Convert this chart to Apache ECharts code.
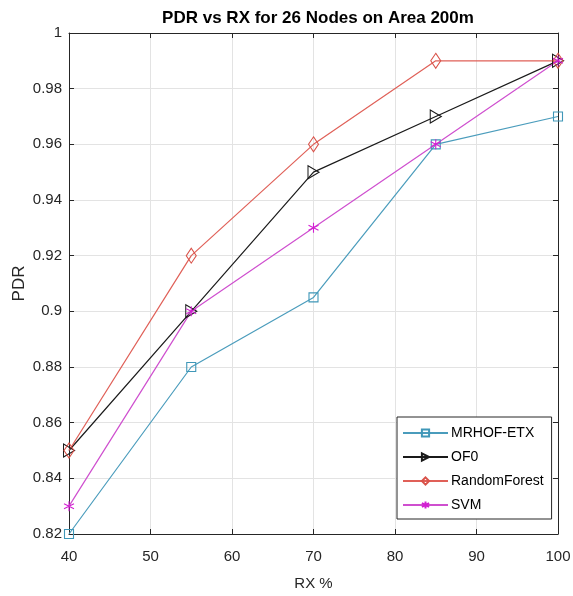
<!DOCTYPE html>
<html>
<head>
<meta charset="utf-8">
<script src="https://cdn.jsdelivr.net/npm/echarts@6/dist/echarts.min.js"></script>
<style>
  html, body { margin: 0; padding: 0; background: #fff; }
  #chart { width: 573px; height: 596px; }
</style>
</head>
<body>
<div id="chart"></div>
<script>
// RX percentages on the x axis
const rx = [40, 55, 70, 85, 100];

// Packet delivery ratio per routing method
const mrhofEtx = [0.82, 0.88, 0.905, 0.96, 0.97];
const of0 = [0.85, 0.90, 0.95, 0.97, 0.99];
const randomForest = [0.85, 0.92, 0.96, 0.99, 0.99];
const svm = [0.83, 0.90, 0.93, 0.96, 0.99];

const seriesNames = ['MRHOF-ETX', 'OF0', 'RandomForest', 'SVM'];

const toPairs = (vals) => rx.map((x, i) => [x, vals[i]]);

const FONT = 'Liberation Sans, Arial, sans-serif';
const AXIS_COLOR = '#262626';

const triangleRight = 'path://M0,0L10,6L0,12Z';
const asterisk = 'path://M5,0L5,10M0.7,2.5L9.3,7.5M0.7,7.5L9.3,2.5';

function makeSeries(name, vals, color, symbol, size, lineColor) {
  return {
    name: name,
    type: 'line',
    data: toPairs(vals),
    symbol: symbol,
    symbolSize: size,
    showAllSymbol: true,
    clip: false,
    lineStyle: { color: lineColor || color, width: 1.2 },
    itemStyle: { color: 'rgba(255,255,255,0)', borderColor: color, borderWidth: 1.1 },
    emphasis: { disabled: true },
    z: 3
  };
}

const chart = echarts.init(document.getElementById('chart'), null, { renderer: 'canvas' });

const tickLabel = { fontFamily: FONT, fontSize: 15, color: '#262626' };

const option = {
  animation: false,
  backgroundColor: '#fff',
  title: {
    text: 'PDR vs RX for 26 Nodes on Area 200m',
    left: 313,
    textAlign: 'center',
    top: 5,
    textStyle: { fontFamily: FONT, fontSize: 17, fontWeight: 'bold', color: '#000' }
  },
  grid: { left: 69, right: 15, top: 33, bottom: 62, containLabel: false, outerBoundsMode: 'none' },
  legend: {
    orient: 'vertical',
    left: 397,
    top: 417,
    width: 156,
    padding: [9, 8, 7, 5],
    itemGap: 10,
    itemWidth: 45,
    itemHeight: 9,
    backgroundColor: '#fff',
    borderColor: '#262626',
    borderWidth: 1,
    borderRadius: 0,
    selectedMode: false,
    data: seriesNames,
    textStyle: { fontFamily: FONT, fontSize: 14, lineHeight: 14, color: '#000', padding: [0, 0, 0, -2] }
  },
  xAxis: [{
    type: 'value',
    min: 40,
    max: 100,
    interval: 10,
    name: 'RX %',
    nameLocation: 'middle',
    nameGap: 42,
    nameMoveOverlap: false,
    nameTextStyle: { fontFamily: FONT, fontSize: 15, color: '#262626' },
    axisLine: { show: true, lineStyle: { color: AXIS_COLOR, width: 1 } },
    axisTick: { show: true, inside: true, length: 5, lineStyle: { color: AXIS_COLOR } },
    axisLabel: Object.assign({ margin: 15 }, tickLabel),
    splitLine: { show: true, lineStyle: { color: '#e3e3e3', width: 1 } }
  }, {
    type: 'value',
    position: 'top',
    min: 40,
    max: 100,
    interval: 10,
    axisLine: { show: true, lineStyle: { color: AXIS_COLOR, width: 1 } },
    axisTick: { show: true, inside: true, length: 5, lineStyle: { color: AXIS_COLOR } },
    axisLabel: { show: false },
    splitLine: { show: false }
  }],
  yAxis: [{
    type: 'value',
    min: 0.82,
    max: 1,
    interval: 0.02,
    name: 'PDR',
    nameLocation: 'middle',
    nameGap: 41,
    nameMoveOverlap: false,
    nameTextStyle: { fontFamily: FONT, fontSize: 17, color: '#262626' },
    axisLine: { show: true, lineStyle: { color: AXIS_COLOR, width: 1 } },
    axisTick: { show: true, inside: true, length: 5, lineStyle: { color: AXIS_COLOR } },
    axisLabel: Object.assign({
      margin: 7,
      formatter: (v) => String(Math.round(v * 100) / 100)
    }, tickLabel),
    splitLine: { show: true, lineStyle: { color: '#e3e3e3', width: 1 } }
  }, {
    type: 'value',
    position: 'right',
    min: 0.82,
    max: 1,
    interval: 0.02,
    axisLine: { show: true, lineStyle: { color: AXIS_COLOR, width: 1 } },
    axisTick: { show: true, inside: true, length: 5, lineStyle: { color: AXIS_COLOR } },
    axisLabel: { show: false },
    splitLine: { show: false }
  }],
  series: [
    makeSeries('MRHOF-ETX', mrhofEtx, '#3f97b8', 'rect', 9, '#4a9cbc'),
    makeSeries('OF0', of0, '#1a1a1a', triangleRight, [11, 13]),
    makeSeries('RandomForest', randomForest, '#d9534a', 'diamond', [10, 15], '#e06058'),
    makeSeries('SVM', svm, '#d21fd2', asterisk, 10, '#cf4fcf')
  ]
};

chart.setOption(option);
</script>
</body>
</html>
